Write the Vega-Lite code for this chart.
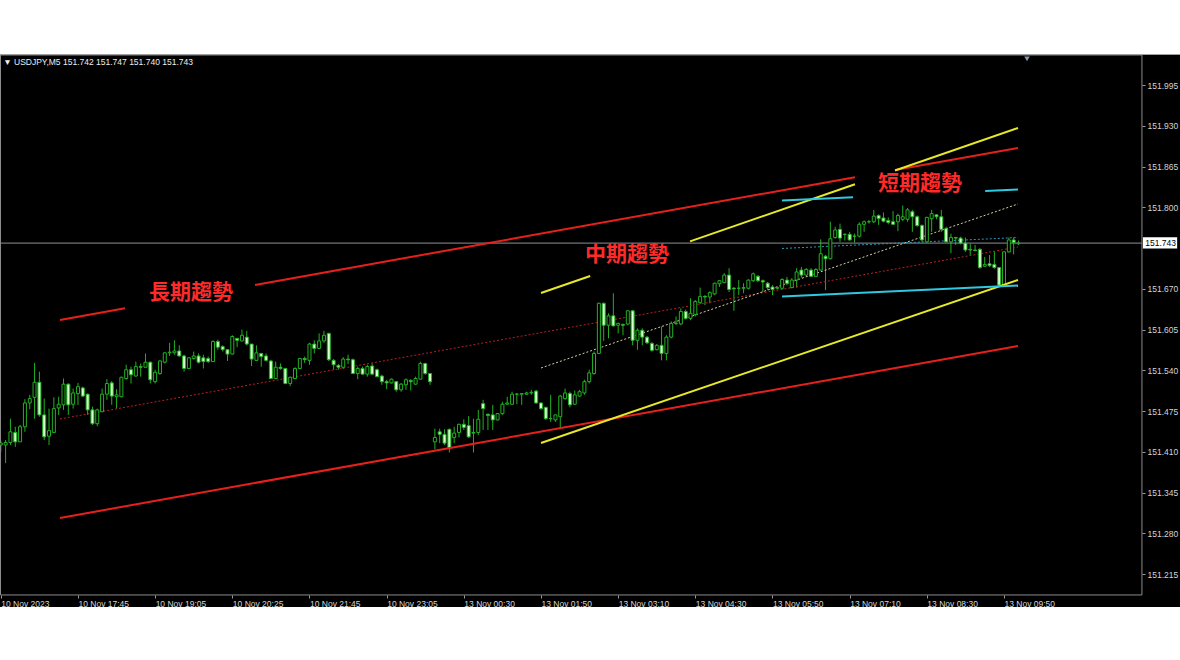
{
"$schema":"https://vega.github.io/schema/vega-lite/v6.json",
"width":1180,"height":553,"autosize":"none",
"padding":{"top":54,"bottom":53,"left":0,"right":0},
"background":"white",
"config":{"view":{"fill":"black","stroke":null},"axis":{"grid":false}},
"datasets":{
"one":[{}],
"candles":[
{"k":0,"o":151.421,"h":151.428,"l":151.410,"c":151.424},
{"k":1,"o":151.421,"h":151.429,"l":151.392,"c":151.425},
{"k":2,"o":151.425,"h":151.463,"l":151.421,"c":151.442},
{"k":3,"o":151.441,"h":151.450,"l":151.418,"c":151.426},
{"k":4,"o":151.426,"h":151.453,"l":151.426,"c":151.450},
{"k":5,"o":151.450,"h":151.494,"l":151.442,"c":151.488},
{"k":6,"o":151.488,"h":151.501,"l":151.478,"c":151.495},
{"k":7,"o":151.497,"h":151.552,"l":151.463,"c":151.521},
{"k":8,"o":151.521,"h":151.538,"l":151.466,"c":151.469},
{"k":9,"o":151.469,"h":151.495,"l":151.429,"c":151.434},
{"k":10,"o":151.435,"h":151.479,"l":151.421,"c":151.444},
{"k":11,"o":151.441,"h":151.497,"l":151.441,"c":151.479},
{"k":12,"o":151.480,"h":151.498,"l":151.469,"c":151.486},
{"k":13,"o":151.485,"h":151.527,"l":151.477,"c":151.518},
{"k":14,"o":151.518,"h":151.519,"l":151.469,"c":151.485},
{"k":15,"o":151.486,"h":151.511,"l":151.479,"c":151.504},
{"k":16,"o":151.503,"h":151.520,"l":151.485,"c":151.514},
{"k":17,"o":151.512,"h":151.514,"l":151.498,"c":151.499},
{"k":18,"o":151.502,"h":151.503,"l":151.469,"c":151.477},
{"k":19,"o":151.477,"h":151.482,"l":151.453,"c":151.455},
{"k":20,"o":151.455,"h":151.479,"l":151.451,"c":151.477},
{"k":21,"o":151.474,"h":151.511,"l":151.474,"c":151.502},
{"k":22,"o":151.502,"h":151.526,"l":151.493,"c":151.519},
{"k":23,"o":151.520,"h":151.523,"l":151.485,"c":151.499},
{"k":24,"o":151.498,"h":151.510,"l":151.479,"c":151.501},
{"k":25,"o":151.498,"h":151.530,"l":151.497,"c":151.529},
{"k":26,"o":151.527,"h":151.549,"l":151.525,"c":151.541},
{"k":27,"o":151.541,"h":151.546,"l":151.519,"c":151.533},
{"k":28,"o":151.531,"h":151.554,"l":151.530,"c":151.546},
{"k":29,"o":151.546,"h":151.551,"l":151.530,"c":151.545},
{"k":30,"o":151.545,"h":151.567,"l":151.545,"c":151.553},
{"k":31,"o":151.553,"h":151.554,"l":151.519,"c":151.525},
{"k":32,"o":151.522,"h":151.541,"l":151.519,"c":151.537},
{"k":33,"o":151.535,"h":151.556,"l":151.533,"c":151.555},
{"k":34,"o":151.553,"h":151.569,"l":151.551,"c":151.568},
{"k":35,"o":151.568,"h":151.584,"l":151.563,"c":151.569},
{"k":36,"o":151.568,"h":151.588,"l":151.565,"c":151.571},
{"k":37,"o":151.571,"h":151.580,"l":151.562,"c":151.563},
{"k":38,"o":151.563,"h":151.565,"l":151.538,"c":151.543},
{"k":39,"o":151.543,"h":151.561,"l":151.542,"c":151.560},
{"k":40,"o":151.559,"h":151.570,"l":151.557,"c":151.563},
{"k":41,"o":151.563,"h":151.567,"l":151.551,"c":151.553},
{"k":42,"o":151.560,"h":151.565,"l":151.543,"c":151.554},
{"k":43,"o":151.559,"h":151.562,"l":151.552,"c":151.554},
{"k":44,"o":151.554,"h":151.588,"l":151.554,"c":151.586},
{"k":45,"o":151.586,"h":151.589,"l":151.573,"c":151.577},
{"k":46,"o":151.578,"h":151.580,"l":151.570,"c":151.573},
{"k":47,"o":151.573,"h":151.574,"l":151.555,"c":151.566},
{"k":48,"o":151.566,"h":151.596,"l":151.565,"c":151.594},
{"k":49,"o":151.591,"h":151.592,"l":151.577,"c":151.588},
{"k":50,"o":151.587,"h":151.605,"l":151.586,"c":151.596},
{"k":51,"o":151.593,"h":151.603,"l":151.580,"c":151.582},
{"k":52,"o":151.582,"h":151.582,"l":151.547,"c":151.558},
{"k":53,"o":151.556,"h":151.580,"l":151.555,"c":151.568},
{"k":54,"o":151.567,"h":151.568,"l":151.546,"c":151.562},
{"k":55,"o":151.563,"h":151.567,"l":151.554,"c":151.556},
{"k":56,"o":151.555,"h":151.557,"l":151.526,"c":151.527},
{"k":57,"o":151.527,"h":151.554,"l":151.526,"c":151.545},
{"k":58,"o":151.545,"h":151.551,"l":151.541,"c":151.543},
{"k":59,"o":151.543,"h":151.544,"l":151.518,"c":151.519},
{"k":60,"o":151.519,"h":151.530,"l":151.515,"c":151.529},
{"k":61,"o":151.527,"h":151.545,"l":151.526,"c":151.543},
{"k":62,"o":151.543,"h":151.560,"l":151.542,"c":151.559},
{"k":63,"o":151.559,"h":151.562,"l":151.552,"c":151.557},
{"k":64,"o":151.556,"h":151.584,"l":151.549,"c":151.582},
{"k":65,"o":151.582,"h":151.588,"l":151.567,"c":151.575},
{"k":66,"o":151.575,"h":151.599,"l":151.574,"c":151.587},
{"k":67,"o":151.587,"h":151.603,"l":151.584,"c":151.596},
{"k":68,"o":151.599,"h":151.600,"l":151.555,"c":151.557},
{"k":69,"o":151.556,"h":151.558,"l":151.541,"c":151.549},
{"k":70,"o":151.548,"h":151.550,"l":151.541,"c":151.545},
{"k":71,"o":151.545,"h":151.561,"l":151.542,"c":151.558},
{"k":72,"o":151.558,"h":151.565,"l":151.550,"c":151.557},
{"k":73,"o":151.557,"h":151.559,"l":151.534,"c":151.535},
{"k":74,"o":151.535,"h":151.546,"l":151.526,"c":151.543},
{"k":75,"o":151.543,"h":151.546,"l":151.533,"c":151.534},
{"k":76,"o":151.534,"h":151.549,"l":151.530,"c":151.546},
{"k":77,"o":151.547,"h":151.551,"l":151.533,"c":151.534},
{"k":78,"o":151.541,"h":151.543,"l":151.529,"c":151.530},
{"k":79,"o":151.531,"h":151.533,"l":151.517,"c":151.522},
{"k":80,"o":151.522,"h":151.525,"l":151.510,"c":151.520},
{"k":81,"o":151.520,"h":151.527,"l":151.519,"c":151.526},
{"k":82,"o":151.522,"h":151.523,"l":151.506,"c":151.509},
{"k":83,"o":151.509,"h":151.520,"l":151.506,"c":151.518},
{"k":84,"o":151.517,"h":151.527,"l":151.509,"c":151.525},
{"k":85,"o":151.524,"h":151.526,"l":151.508,"c":151.522},
{"k":86,"o":151.518,"h":151.530,"l":151.517,"c":151.527},
{"k":87,"o":151.526,"h":151.554,"l":151.526,"c":151.551},
{"k":88,"o":151.551,"h":151.552,"l":151.533,"c":151.535},
{"k":89,"o":151.535,"h":151.536,"l":151.517,"c":151.522},
{"k":90,"o":151.426,"h":151.447,"l":151.414,"c":151.433},
{"k":91,"o":151.442,"h":151.447,"l":151.424,"c":151.438},
{"k":92,"o":151.438,"h":151.446,"l":151.421,"c":151.424},
{"k":93,"o":151.446,"h":151.447,"l":151.409,"c":151.416},
{"k":94,"o":151.433,"h":151.450,"l":151.424,"c":151.440},
{"k":95,"o":151.441,"h":151.455,"l":151.433,"c":151.454},
{"k":96,"o":151.454,"h":151.462,"l":151.445,"c":151.449},
{"k":97,"o":151.452,"h":151.467,"l":151.432,"c":151.434},
{"k":98,"o":151.441,"h":151.463,"l":151.409,"c":151.440},
{"k":99,"o":151.441,"h":151.477,"l":151.437,"c":151.462},
{"k":100,"o":151.487,"h":151.493,"l":151.445,"c":151.479},
{"k":101,"o":151.470,"h":151.471,"l":151.445,"c":151.468},
{"k":102,"o":151.469,"h":151.485,"l":151.445,"c":151.461},
{"k":103,"o":151.461,"h":151.472,"l":151.460,"c":151.471},
{"k":104,"o":151.471,"h":151.490,"l":151.469,"c":151.486},
{"k":105,"o":151.486,"h":151.498,"l":151.485,"c":151.488},
{"k":106,"o":151.486,"h":151.506,"l":151.485,"c":151.502},
{"k":107,"o":151.502,"h":151.504,"l":151.486,"c":151.502},
{"k":108,"o":151.502,"h":151.503,"l":151.485,"c":151.503},
{"k":109,"o":151.502,"h":151.506,"l":151.501,"c":151.504},
{"k":110,"o":151.504,"h":151.509,"l":151.501,"c":151.505},
{"k":111,"o":151.507,"h":151.509,"l":151.487,"c":151.488},
{"k":112,"o":151.488,"h":151.489,"l":151.477,"c":151.479},
{"k":113,"o":151.481,"h":151.482,"l":151.461,"c":151.463},
{"k":114,"o":151.463,"h":151.501,"l":151.458,"c":151.463},
{"k":115,"o":151.461,"h":151.469,"l":151.458,"c":151.469},
{"k":116,"o":151.466,"h":151.501,"l":151.446,"c":151.499},
{"k":117,"o":151.495,"h":151.511,"l":151.493,"c":151.504},
{"k":118,"o":151.503,"h":151.506,"l":151.481,"c":151.485},
{"k":119,"o":151.486,"h":151.508,"l":151.485,"c":151.501},
{"k":120,"o":151.499,"h":151.509,"l":151.498,"c":151.506},
{"k":121,"o":151.504,"h":151.525,"l":151.501,"c":151.522},
{"k":122,"o":151.522,"h":151.541,"l":151.519,"c":151.536},
{"k":123,"o":151.535,"h":151.570,"l":151.533,"c":151.567},
{"k":124,"o":151.567,"h":151.648,"l":151.566,"c":151.647},
{"k":125,"o":151.647,"h":151.648,"l":151.587,"c":151.612},
{"k":126,"o":151.612,"h":151.631,"l":151.591,"c":151.627},
{"k":127,"o":151.627,"h":151.663,"l":151.610,"c":151.611},
{"k":128,"o":151.612,"h":151.616,"l":151.599,"c":151.615},
{"k":129,"o":151.613,"h":151.615,"l":151.596,"c":151.612},
{"k":130,"o":151.614,"h":151.636,"l":151.612,"c":151.635},
{"k":131,"o":151.635,"h":151.636,"l":151.580,"c":151.588},
{"k":132,"o":151.588,"h":151.607,"l":151.573,"c":151.604},
{"k":133,"o":151.604,"h":151.607,"l":151.580,"c":151.593},
{"k":134,"o":151.593,"h":151.595,"l":151.582,"c":151.584},
{"k":135,"o":151.583,"h":151.585,"l":151.570,"c":151.572},
{"k":136,"o":151.573,"h":151.582,"l":151.572,"c":151.580},
{"k":137,"o":151.580,"h":151.610,"l":151.556,"c":151.567},
{"k":138,"o":151.567,"h":151.596,"l":151.556,"c":151.593},
{"k":139,"o":151.593,"h":151.618,"l":151.591,"c":151.615},
{"k":140,"o":151.615,"h":151.626,"l":151.612,"c":151.615},
{"k":141,"o":151.614,"h":151.639,"l":151.612,"c":151.634},
{"k":142,"o":151.634,"h":151.637,"l":151.621,"c":151.623},
{"k":143,"o":151.623,"h":151.655,"l":151.620,"c":151.631},
{"k":144,"o":151.629,"h":151.652,"l":151.626,"c":151.650},
{"k":145,"o":151.648,"h":151.672,"l":151.646,"c":151.658},
{"k":146,"o":151.658,"h":151.660,"l":151.644,"c":151.657},
{"k":147,"o":151.657,"h":151.666,"l":151.647,"c":151.664},
{"k":148,"o":151.662,"h":151.680,"l":151.660,"c":151.679},
{"k":149,"o":151.678,"h":151.684,"l":151.673,"c":151.683},
{"k":150,"o":151.680,"h":151.695,"l":151.679,"c":151.692},
{"k":151,"o":151.692,"h":151.703,"l":151.665,"c":151.669},
{"k":152,"o":151.671,"h":151.673,"l":151.635,"c":151.670},
{"k":153,"o":151.671,"h":151.684,"l":151.660,"c":151.671},
{"k":154,"o":151.671,"h":151.679,"l":151.663,"c":151.672},
{"k":155,"o":151.671,"h":151.685,"l":151.669,"c":151.684},
{"k":156,"o":151.683,"h":151.696,"l":151.681,"c":151.694},
{"k":157,"o":151.690,"h":151.692,"l":151.681,"c":151.683},
{"k":158,"o":151.683,"h":151.685,"l":151.665,"c":151.681},
{"k":159,"o":151.679,"h":151.681,"l":151.668,"c":151.672},
{"k":160,"o":151.673,"h":151.676,"l":151.660,"c":151.669},
{"k":161,"o":151.671,"h":151.673,"l":151.669,"c":151.672},
{"k":162,"o":151.671,"h":151.687,"l":151.669,"c":151.685},
{"k":163,"o":151.684,"h":151.689,"l":151.676,"c":151.679},
{"k":164,"o":151.672,"h":151.687,"l":151.671,"c":151.684},
{"k":165,"o":151.684,"h":151.703,"l":151.672,"c":151.697},
{"k":166,"o":151.700,"h":151.705,"l":151.688,"c":151.692},
{"k":167,"o":151.692,"h":151.703,"l":151.690,"c":151.701},
{"k":168,"o":151.700,"h":151.703,"l":151.689,"c":151.690},
{"k":169,"o":151.690,"h":151.703,"l":151.689,"c":151.701},
{"k":170,"o":151.700,"h":151.749,"l":151.699,"c":151.726},
{"k":171,"o":151.722,"h":151.724,"l":151.668,"c":151.718},
{"k":172,"o":151.718,"h":151.777,"l":151.717,"c":151.750},
{"k":173,"o":151.752,"h":151.769,"l":151.750,"c":151.764},
{"k":174,"o":151.765,"h":151.774,"l":151.745,"c":151.751},
{"k":175,"o":151.757,"h":151.758,"l":151.747,"c":151.757},
{"k":176,"o":151.757,"h":151.761,"l":151.747,"c":151.748},
{"k":177,"o":151.754,"h":151.758,"l":151.744,"c":151.754},
{"k":178,"o":151.754,"h":151.776,"l":151.752,"c":151.773},
{"k":179,"o":151.773,"h":151.779,"l":151.761,"c":151.777},
{"k":180,"o":151.777,"h":151.780,"l":151.774,"c":151.777},
{"k":181,"o":151.777,"h":151.796,"l":151.775,"c":151.786},
{"k":182,"o":151.787,"h":151.789,"l":151.772,"c":151.782},
{"k":183,"o":151.783,"h":151.792,"l":151.776,"c":151.778},
{"k":184,"o":151.779,"h":151.784,"l":151.773,"c":151.776},
{"k":185,"o":151.777,"h":151.794,"l":151.772,"c":151.773},
{"k":186,"o":151.777,"h":151.790,"l":151.762,"c":151.787},
{"k":187,"o":151.781,"h":151.803,"l":151.778,"c":151.785},
{"k":188,"o":151.781,"h":151.799,"l":151.777,"c":151.796},
{"k":189,"o":151.793,"h":151.796,"l":151.761,"c":151.785},
{"k":190,"o":151.785,"h":151.787,"l":151.769,"c":151.771},
{"k":191,"o":151.771,"h":151.773,"l":151.745,"c":151.748},
{"k":192,"o":151.745,"h":151.785,"l":151.744,"c":151.784},
{"k":193,"o":151.782,"h":151.796,"l":151.761,"c":151.790},
{"k":194,"o":151.788,"h":151.789,"l":151.781,"c":151.785},
{"k":195,"o":151.785,"h":151.796,"l":151.761,"c":151.765},
{"k":196,"o":151.766,"h":151.769,"l":151.744,"c":151.745},
{"k":197,"o":151.745,"h":151.758,"l":151.727,"c":151.752},
{"k":198,"o":151.752,"h":151.753,"l":151.740,"c":151.751},
{"k":199,"o":151.751,"h":151.753,"l":151.741,"c":151.743},
{"k":200,"o":151.743,"h":151.752,"l":151.729,"c":151.732},
{"k":201,"o":151.733,"h":151.742,"l":151.724,"c":151.732},
{"k":202,"o":151.732,"h":151.740,"l":151.730,"c":151.731},
{"k":203,"o":151.733,"h":151.735,"l":151.702,"c":151.704},
{"k":204,"o":151.706,"h":151.721,"l":151.705,"c":151.709},
{"k":205,"o":151.710,"h":151.724,"l":151.705,"c":151.707},
{"k":206,"o":151.709,"h":151.730,"l":151.702,"c":151.704},
{"k":207,"o":151.704,"h":151.705,"l":151.675,"c":151.676},
{"k":208,"o":151.676,"h":151.730,"l":151.675,"c":151.729},
{"k":209,"o":151.729,"h":151.752,"l":151.728,"c":151.748},
{"k":210,"o":151.748,"h":151.752,"l":151.725,"c":151.744},
{"k":211,"o":151.742,"h":151.747,"l":151.740,"c":151.743}
],
"lines":[
{"seg":"R1a","kind":"red","k":12.27,"p":151.6204},{"seg":"R1a","kind":"red","k":25.75,"p":151.6390},
{"seg":"R1b","kind":"red","k":52.71,"p":151.6763},{"seg":"R1b","kind":"red","k":177.1,"p":151.8480},
{"seg":"R1c","kind":"red","k":185.4,"p":151.8595},{"seg":"R1c","kind":"red","k":210.9,"p":151.8947},
{"seg":"R2","kind":"red","k":12.27,"p":151.3046},{"seg":"R2","kind":"red","k":210.9,"p":151.5789},
{"seg":"R3","kind":"reddot","k":12.27,"p":151.4625},{"seg":"R3","kind":"reddot","k":210.9,"p":151.7368},
{"seg":"Y1a","kind":"yellow","k":112.0,"p":151.6634},{"seg":"Y1a","kind":"yellow","k":122.2,"p":151.6905},
{"seg":"Y1b","kind":"yellow","k":142.9,"p":151.7458},{"seg":"Y1b","kind":"yellow","k":177.1,"p":151.8368},
{"seg":"Y1c","kind":"yellow","k":185.4,"p":151.8587},{"seg":"Y1c","kind":"yellow","k":210.9,"p":151.9266},
{"seg":"Y2","kind":"yellow","k":112.0,"p":151.4242},{"seg":"Y2","kind":"yellow","k":210.9,"p":151.6841},
{"seg":"Y3","kind":"ydot","k":112.0,"p":151.5438},{"seg":"Y3","kind":"ydot","k":210.9,"p":151.8054},
{"seg":"C1a","kind":"cyan","k":161.97,"p":151.8110},{"seg":"C1a","kind":"cyan","k":176.7,"p":151.8162},
{"seg":"C1b","kind":"cyan","k":204.1,"p":151.8261},{"seg":"C1b","kind":"cyan","k":210.9,"p":151.8285},
{"seg":"C2","kind":"cyan","k":161.97,"p":151.6578},{"seg":"C2","kind":"cyan","k":210.9,"p":151.6754},
{"seg":"C3","kind":"cdot","k":161.97,"p":151.7344},{"seg":"C3","kind":"cdot","k":210.9,"p":151.7519},
{"seg":"B","kind":"bid","k":-0.2,"p":151.743},{"seg":"B","kind":"bid","k":236.6,"p":151.743}
],
"labels":[
{"t":"長期趨勢","k":39.43,"p":151.6634},
{"t":"中期趨勢","k":129.84,"p":151.724},
{"t":"短期趨勢","k":190.6,"p":151.8373}
]
},
"layer":[
{"data":{"name":"candles"},
 "mark":{"type":"rule","color":"#22b022","strokeWidth":1},
 "encoding":{"x":{"field":"k","type":"quantitative","title":null,"scale":{"domain":[-0.166,244.49],"nice":false,"zero":false,"padding":0},
   "axis":{"orient":"bottom","offset":-12,"zindex":1,"values":[0,16,32,48,64,80,96,112,128,144,160,176,192,208],
    "labelExpr":"['10 Nov 2023','10 Nov 17:45','10 Nov 19:05','10 Nov 20:25','10 Nov 21:45','10 Nov 23:05','13 Nov 00:30','13 Nov 01:50','13 Nov 03:10','13 Nov 04:30','13 Nov 05:50','13 Nov 07:10','13 Nov 08:30','13 Nov 09:50'][round(datum.value/16)]",
    "labelAlign":"left","labelBaseline":"top","labelPadding":1,"labelDx":1,"labelFont":"Liberation Sans","labelFontSize":8.5,"labelColor":"#d4d4d4",
    "tickColor":"#9a9a9a","tickSize":3,"domain":false,"title":null,"labelOverlap":false,"labelFlush":false,"grid":false}},
  "y":{"field":"l","type":"quantitative","title":null,"scale":{"domain":[151.1626,152.0446],"nice":false,"zero":false,"padding":0},
   "axis":{"orient":"right","offset":-38,"zindex":1,"values":[151.215,151.28,151.345,151.41,151.475,151.54,151.605,151.67,151.8,151.865,151.93,151.995],
    "format":".3f","labelFont":"Liberation Sans","labelFontSize":8.5,"labelColor":"#d4d4d4","labelPadding":2,
    "tickColor":"#9a9a9a","tickSize":3,"domain":false,"title":null,"labelOverlap":false,"grid":false}},
  "y2":{"field":"h"}}},
{"data":{"name":"one"},"mark":{"type":"rect","fill":null,"stroke":"#8c8c8c","strokeWidth":1},
 "encoding":{"x":{"datum":-0.06,"type":"quantitative","title":null},"x2":{"datum":236.6},
  "y":{"datum":151.1818,"type":"quantitative","title":null},"y2":{"datum":152.043}}},
{"data":{"name":"one"},"mark":{"type":"rule","stroke":"#a0a0a0","strokeWidth":1},
 "encoding":{"x":{"datum":-0.5,"type":"quantitative","title":null},"x2":{"datum":244.6},
  "y":{"datum":152.0438,"type":"quantitative","title":null}}},
{"data":{"name":"lines"},"transform":[{"filter":"datum.kind == 'bid'"}],
 "mark":{"type":"line","color":"#8a8f96","strokeWidth":1},
 "encoding":{"x":{"field":"k","type":"quantitative","title":null},"y":{"field":"p","type":"quantitative","title":null},"detail":{"field":"seg"}}},
{"data":{"name":"lines"},"transform":[{"filter":"datum.kind == 'reddot'"}],
 "mark":{"type":"line","color":"#b82020","strokeWidth":1,"strokeDash":[2,2]},
 "encoding":{"x":{"field":"k","type":"quantitative","title":null},"y":{"field":"p","type":"quantitative","title":null},"detail":{"field":"seg"}}},
{"data":{"name":"lines"},"transform":[{"filter":"datum.kind == 'ydot'"}],
 "mark":{"type":"line","color":"#d8d0a8","strokeWidth":1,"strokeDash":[2,2]},
 "encoding":{"x":{"field":"k","type":"quantitative","title":null},"y":{"field":"p","type":"quantitative","title":null},"detail":{"field":"seg"}}},
{"data":{"name":"lines"},"transform":[{"filter":"datum.kind == 'cdot'"}],
 "mark":{"type":"line","color":"#2a98b8","strokeWidth":1,"strokeDash":[2,2]},
 "encoding":{"x":{"field":"k","type":"quantitative","title":null},"y":{"field":"p","type":"quantitative","title":null},"detail":{"field":"seg"}}},
{"data":{"name":"candles"},
 "mark":{"type":"bar","width":3,"stroke":"#22b022","strokeWidth":1},
 "encoding":{"x":{"field":"k","type":"quantitative","title":null},
  "y":{"field":"o","type":"quantitative","title":null},"y2":{"field":"c"},
  "fill":{"condition":{"test":"datum.c < datum.o","value":"#d8ffd0"},"value":"black"}}},
{"data":{"name":"lines"},"transform":[{"filter":"datum.kind == 'red'"}],
 "mark":{"type":"line","color":"#e8201c","strokeWidth":2},
 "encoding":{"x":{"field":"k","type":"quantitative","title":null},"y":{"field":"p","type":"quantitative","title":null},"detail":{"field":"seg"}}},
{"data":{"name":"lines"},"transform":[{"filter":"datum.kind == 'yellow'"}],
 "mark":{"type":"line","color":"#e8e82a","strokeWidth":2},
 "encoding":{"x":{"field":"k","type":"quantitative","title":null},"y":{"field":"p","type":"quantitative","title":null},"detail":{"field":"seg"}}},
{"data":{"name":"lines"},"transform":[{"filter":"datum.kind == 'cyan'"}],
 "mark":{"type":"line","color":"#30c8e0","strokeWidth":2},
 "encoding":{"x":{"field":"k","type":"quantitative","title":null},"y":{"field":"p","type":"quantitative","title":null},"detail":{"field":"seg"}}},
{"data":{"name":"labels"},
 "mark":{"type":"text","font":"Noto Sans CJK JP","fontWeight":"bold","fontSize":21,"color":"#ff2a2a","align":"center","baseline":"middle"},
 "encoding":{"x":{"field":"k","type":"quantitative","title":null},"y":{"field":"p","type":"quantitative","title":null},"text":{"field":"t"}}},
{"data":{"name":"one"},"mark":{"type":"text","align":"left","baseline":"middle","font":"Liberation Sans","fontSize":8.5,"color":"#eeeeee","text":"▼ USDJPY,M5  151.742 151.747 151.740 151.743"},
 "encoding":{"x":{"datum":0.5,"type":"quantitative","title":null},"y":{"datum":152.0318,"type":"quantitative","title":null}}},
{"data":{"name":"one"},"mark":{"type":"point","shape":"triangle-down","filled":true,"color":"#8899aa","size":30,"opacity":1},
 "encoding":{"x":{"datum":212.77,"type":"quantitative","title":null},"y":{"datum":152.037,"type":"quantitative","title":null}}},
{"data":{"name":"one"},"mark":{"type":"rect","fill":"white","stroke":null},
 "encoding":{"x":{"datum":236.8,"type":"quantitative","title":null},"x2":{"datum":243.9},
  "y":{"datum":151.7345,"type":"quantitative","title":null},"y2":{"datum":151.7525}}},
{"data":{"name":"one"},"mark":{"type":"text","align":"left","baseline":"middle","font":"Liberation Sans","fontSize":8.5,"color":"black","text":"151.743"},
 "encoding":{"x":{"datum":237.3,"type":"quantitative","title":null},"y":{"datum":151.743,"type":"quantitative","title":null}}}
]
}
